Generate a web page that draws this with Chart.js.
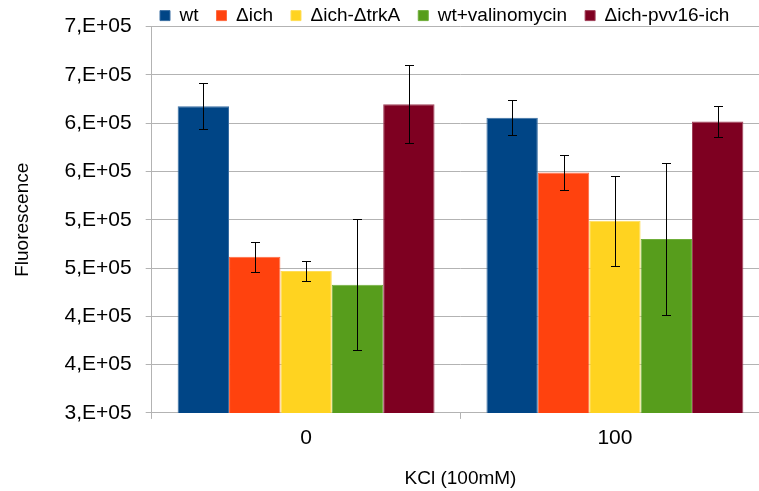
<!DOCTYPE html>
<html>
<head>
<meta charset="utf-8">
<script src="https://cdn.jsdelivr.net/npm/chart.js@4/dist/chart.umd.min.js"></script>
<style>
  html, body { margin: 0; padding: 0; background: #fff; overflow: hidden; }
  #wrap { width: 780px; height: 491px; }
</style>
</head>
<body>
<div id="wrap"><canvas id="chart" width="780" height="491"></canvas></div>
<script>
// data
var categories = ['0', '100'];
var seriesNames = ['wt', '\u0394ich', '\u0394ich-\u0394trkA', 'wt+valinomycin', '\u0394ich-pvv16-ich'];
var wt = [617600, 605500];
var ich = [461700, 548900];
var ichTrkA = [446900, 498900];
var wtValino = [432700, 480000];
var ichPvv = [619700, 601700];
var wtErr = [23700, 18100];
var ichErr = [15500, 18100];
var ichTrkAErr = [10200, 46500];
var wtValinoErr = [67800, 78500];
var ichPvvErr = [40300, 15600];
var yTickLabels = ['3,E+05', '4,E+05', '4,E+05', '5,E+05', '5,E+05', '6,E+05', '6,E+05', '7,E+05', '7,E+05'];

var colors = ['#004586', '#ff420e', '#ffd320', '#579d1c', '#7e0021'];
var borders = ['#3a6fa3', '#ff6a40', '#ffdd55', '#6fae3a', '#a0405a'];
var values = [wt, ich, ichTrkA, wtValino, ichPvv];
var errors = [wtErr, ichErr, ichTrkAErr, wtValinoErr, ichPvvErr];

var font = 'Liberation Sans';

// moves the legend to where the original has it
var legendShift = {
    id: 'legendShift',
    afterLayout: function (chart) {
        var l = chart.legend;
        var dx = 160 - (l.left + l.options.labels.padding);
        var dy = 8.5;
        l.left += dx; l.right += dx;
        l.top += dy; l.bottom += dy;
    }
};

// error bars from the err arrays
var errorBars = {
    id: 'errorBars',
    afterDatasetsDraw: function (chart) {
        var ctx = chart.ctx, y = chart.scales.y;
        ctx.save();
        ctx.strokeStyle = '#000';
        ctx.lineWidth = 1;
        chart.data.datasets.forEach(function (ds, i) {
            var meta = chart.getDatasetMeta(i);
            meta.data.forEach(function (bar, j) {
                var x = Math.round(bar.x) + 0.5;
                var top = Math.round(y.getPixelForValue(ds.data[j] + ds.err[j])) + 0.5;
                var bot = Math.round(y.getPixelForValue(ds.data[j] - ds.err[j])) + 0.5;
                ctx.beginPath();
                ctx.moveTo(x, top); ctx.lineTo(x, bot);
                ctx.moveTo(x - 4.5, top); ctx.lineTo(x + 4.5, top);
                ctx.moveTo(x - 4.5, bot); ctx.lineTo(x + 4.5, bot);
                ctx.stroke();
            });
        });
        ctx.restore();
    }
};

var datasets = seriesNames.map(function (name, i) {
    return {
        label: name,
        data: values[i],
        err: errors[i],
        backgroundColor: colors[i],
        borderColor: borders[i],
        borderWidth: 1,
        categoryPercentage: 0.832,
        barPercentage: 1
    };
});

var ctx = document.getElementById('chart').getContext('2d');
window.myBar = new Chart(ctx, {
    type: 'bar',
    data: { labels: categories, datasets: datasets },
    options: {
        responsive: false,
        animation: false,
        layout: { padding: { top: -29.3, right: 10.7, bottom: 0, left: 0 } },
        plugins: {
            legend: {
                position: 'top',
                align: 'start',
                labels: {
                    boxWidth: 10,
                    boxHeight: 10,
                    padding: 18,
                    color: '#000',
                    font: { family: font, size: 19 }
                }
            },
            tooltip: { enabled: false }
        },
        scales: {
            x: {
                offset: true,
                grid: { offset: true, drawOnChartArea: false, tickLength: 6, color: '#b3b3b3' },
                border: { color: '#b3b3b3' },
                ticks: { color: '#000', padding: 7, font: { family: font, size: 21 } },
                title: {
                    display: true, text: 'KCl (100mM)', color: '#000',
                    font: { family: font, size: 19 },
                    padding: { top: 9.7, bottom: 0.4 }
                }
            },
            y: {
                min: 300000,
                max: 700000,
                afterFit: function (scale) { scale.width = 151.7; },
                grid: { color: '#b3b3b3', tickLength: 6 },
                border: { color: '#b3b3b3' },
                ticks: {
                    stepSize: 50000,
                    color: '#000',
                    padding: 14,
                    font: { family: font, size: 21 },
                    callback: function (v, i) { return yTickLabels[i]; }
                },
                title: {
                    display: true, text: 'Fluorescence', color: '#000',
                    font: { family: font, size: 19 },
                    padding: { top: 11, bottom: 0 }
                }
            }
        }
    },
    plugins: [legendShift, errorBars]
});
</script>
</body>
</html>
